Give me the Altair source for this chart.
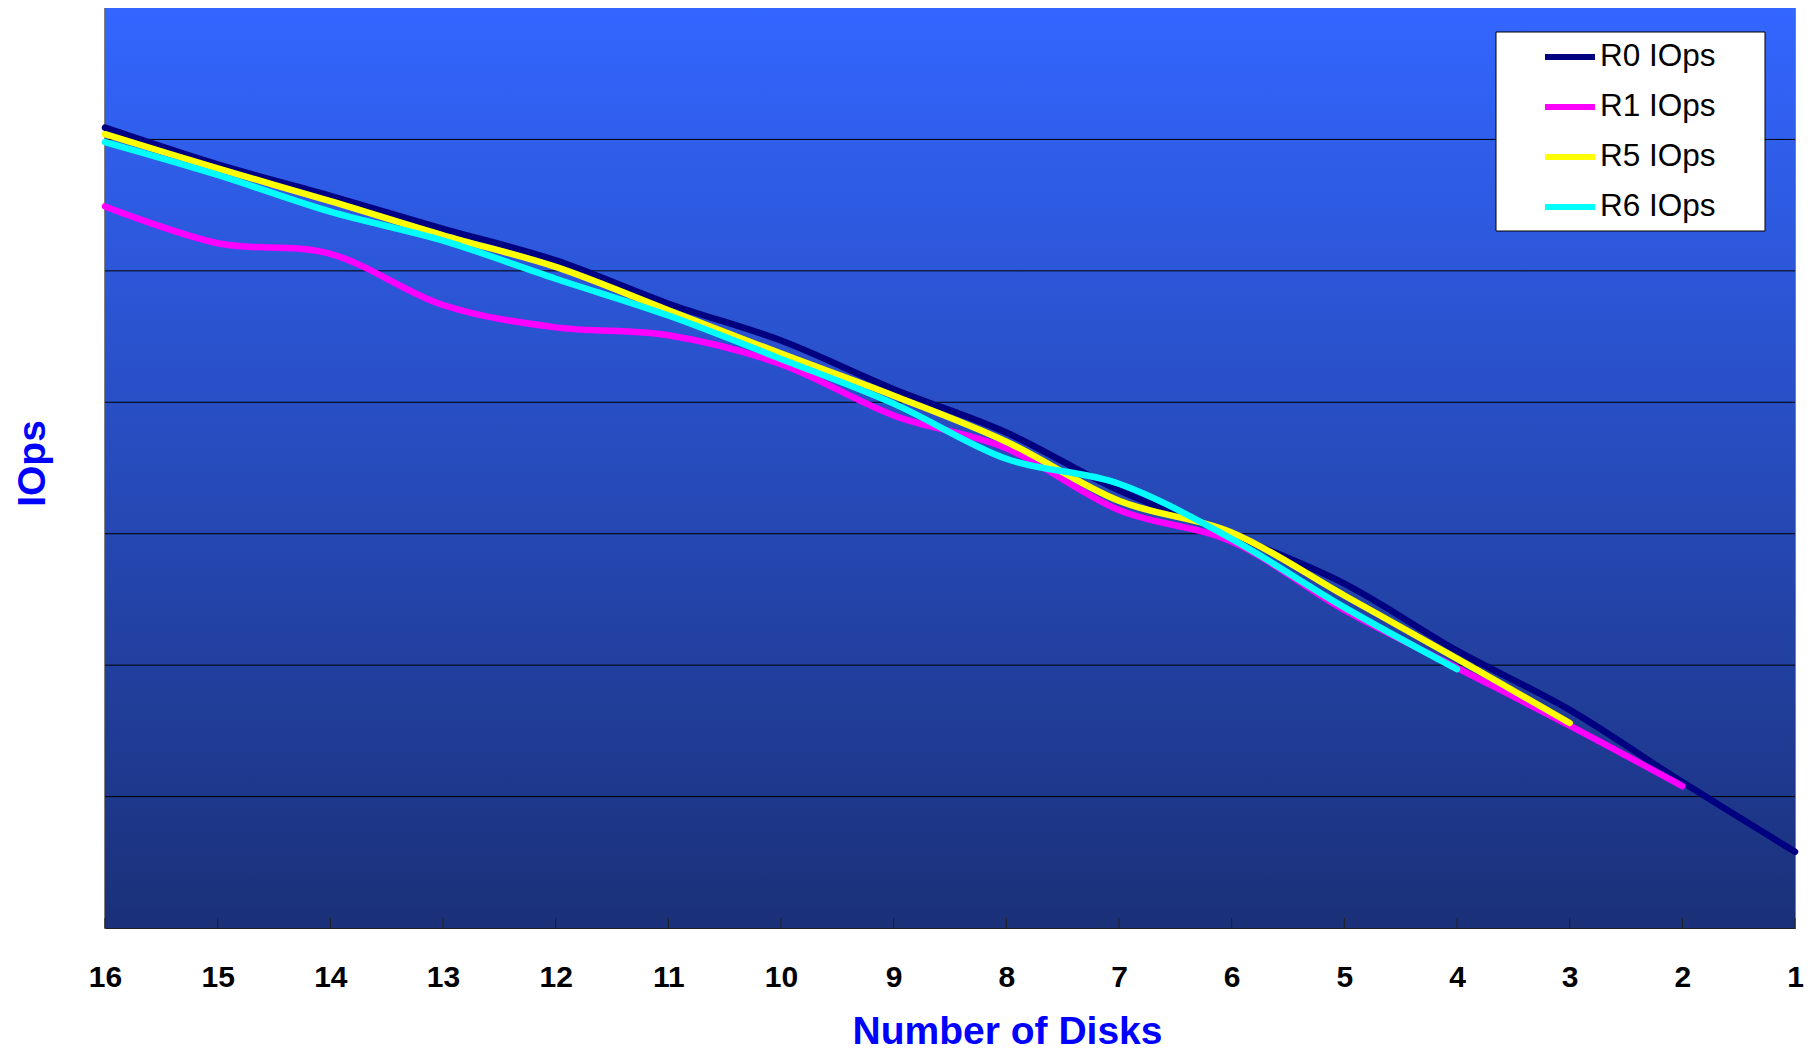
import altair as alt
import pandas as pd

disks = [16, 15, 14, 13, 12, 11, 10, 9, 8, 7, 6, 5, 4, 3, 2, 1]
r0 = [6.09, 5.81, 5.57, 5.32, 5.08, 4.75, 4.47, 4.10, 3.77, 3.33, 2.99, 2.62, 2.11, 1.66, 1.11, 0.58]
r1 = [5.49, 5.21, 5.13, 4.74, 4.57, 4.51, 4.29, 3.90, 3.65, 3.18, 2.94, 2.42, 1.98, 1.54, 1.08]
r5 = [6.04, 5.78, 5.53, 5.27, 5.03, 4.70, 4.37, 4.05, 3.70, 3.25, 3.01, 2.53, 2.05, 1.56]
r6 = [5.98, 5.73, 5.45, 5.23, 4.94, 4.66, 4.33, 3.99, 3.57, 3.38, 2.96, 2.44, 1.97]
series_names = ["R0 IOps", "R1 IOps", "R5 IOps", "R6 IOps"]
series_colors = ["#000080", "#FF00FF", "#FFFF00", "#00FFFF"]
grid_values = [1, 2, 3, 4, 5, 6]

rows = []
for name, vals in zip(series_names, [r0, r1, r5, r6]):
    for d, v in zip(disks, vals):
        rows.append({"disks": d, "iops": v, "series": name})
df = pd.DataFrame(rows)
ticks_df = pd.DataFrame({"disks": disks})
grid_df = pd.DataFrame({"g": grid_values})

W, H = 1690, 920
FONT = "Liberation Sans"

xenc = alt.X(
    "disks:O",
    sort=disks,
    scale=alt.Scale(type="point", padding=0),
    axis=alt.Axis(
        title="Number of Disks",
        titleFontSize=39, titleFont=FONT, titleFontWeight="bold", titleColor="#0000FF",
        titleX=902, titleY=115, titleAlign="center", titleBaseline="alphabetic",
        labelFontSize=30, labelFont=FONT, labelFontWeight="bold", labelColor="#000000",
        labelAngle=0, labelPadding=34, labelBaseline="top",
        ticks=False, tickSize=0, domain=True, domainColor="#202020", domainWidth=1,
        grid=False,
    ),
)

yscale = alt.Scale(domain=[0, 7], nice=False, zero=True)
yaxis = alt.Axis(
    title="IOps",
    titleFontSize=39, titleFont=FONT, titleFontWeight="bold", titleColor="#0000FF",
    titleX=-73, titleY=455, titleAlign="center", titleBaseline="middle", titleAngle=270,
    labels=False, ticks=False, domain=False, grid=False,
)

background = alt.Chart(pd.DataFrame({"a": [0]})).mark_rect(
    color=alt.LinearGradient(
        gradient="linear", x1=0, x2=0, y1=0, y2=1,
        stops=[alt.GradientStop(color="#3366FF", offset=0),
               alt.GradientStop(color="#1A3078", offset=1)],
    )
).encode(x=alt.value(0), x2=alt.value(W), y=alt.value(0), y2=alt.value(H))

grid_rules = alt.Chart(grid_df).mark_rule(color="#000000", strokeWidth=1).encode(
    y=alt.Y("g:Q", scale=yscale, axis=yaxis),
)

tick_rules = alt.Chart(ticks_df).mark_rule(color="#202020", strokeWidth=1).encode(
    x=xenc,
    y=alt.value(H - 10),
    y2=alt.value(H),
)

lines = alt.Chart(df).mark_line(strokeWidth=6.5, interpolate="cardinal", strokeCap="round").encode(
    x=xenc,
    y=alt.Y("iops:Q", scale=yscale, axis=yaxis),
    color=alt.Color(
        "series:N",
        scale=alt.Scale(domain=series_names, range=series_colors),
        legend=alt.Legend(
            title=None, orient="none", legendX=1437, legendY=34,
            symbolType="stroke", symbolStrokeWidth=6, symbolSize=2500,
            labelFontSize=31.5, labelFont=FONT, labelColor="#000000",
            clipHeight=30, rowPadding=18, labelOffset=2, padding=0,
        ),
    ),
    order=alt.Order("series:N"),
)

legend_box = alt.Chart(pd.DataFrame({"a": [0]})).mark_rect(
    fill="#FFFFFF", stroke="#000000", strokeWidth=1
).encode(
    x=alt.value(1391), x2=alt.value(1660), y=alt.value(24), y2=alt.value(223)
)

chart = alt.layer(background, grid_rules, tick_rules, lines, legend_box).properties(
    width=W, height=H,
    autosize=alt.AutoSizeParams(type="none"),
    padding={"left": 97, "top": 0, "right": 10, "bottom": 124},
).configure_view(
    stroke="#808080", strokeWidth=2,
)

chart.save("out.html", embed_options={"renderer": "svg", "actions": False})
